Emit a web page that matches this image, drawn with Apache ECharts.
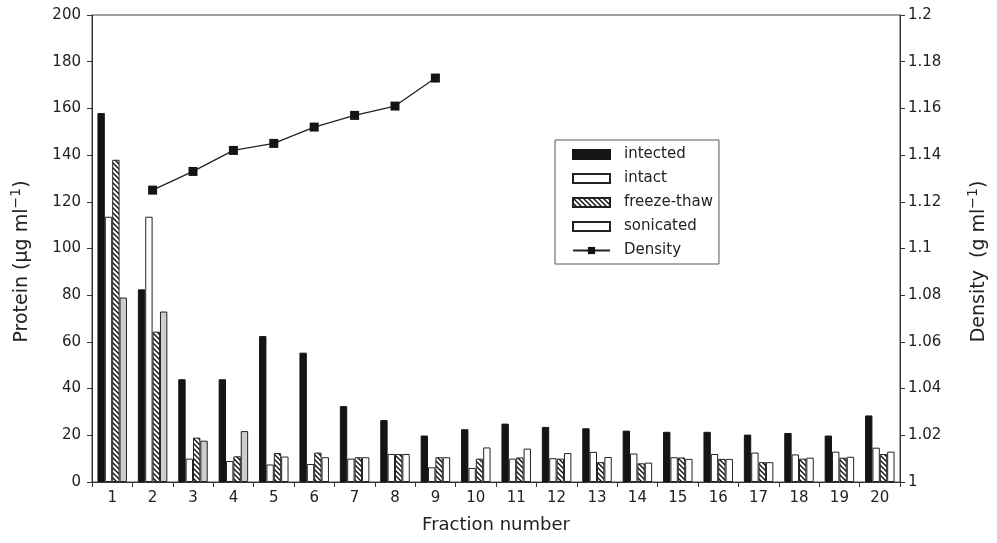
<!DOCTYPE html>
<html>
<head>
<meta charset="utf-8">
<script src="https://cdn.jsdelivr.net/npm/echarts@6/dist/echarts.min.js"></script>
<style>
html, body { margin: 0; padding: 0; background: #fff; }
#chart { width: 997px; height: 543px; }
</style>
</head>
<body>
<div id="chart"></div>
<script>
// fraction numbers
var fractions = ['1','2','3','4','5','6','7','8','9','10','11','12','13','14','15','16','17','18','19','20'];

// protein (ug/ml)
var infected   = [158, 82.5, 44, 44, 62.5, 55.4, 32.5, 26.5, 19.9, 22.6, 25, 23.6, 23, 22, 21.5, 21.5, 20.3, 21, 19.9, 28.5];
var intact     = [113.6, 113.6, 10, 9, 7.5, 7.7, 10, 12, 6.3, 6, 10, 10.2, 12.9, 12.2, 10.6, 12, 12.6, 11.8, 13, 14.7];
var freezeThaw = [138, 64.4, 19, 11, 12.4, 12.6, 10.6, 12, 10.6, 10, 10.5, 10, 8.5, 8, 10.5, 9.9, 8.5, 10, 10.4, 12];
var sonicated  = [79, 73, 17.7, 21.8, 10.9, 10.6, 10.6, 12, 10.6, 14.8, 14.3, 12.4, 10.7, 8.3, 9.9, 9.9, 8.5, 10.4, 10.8, 13];

// density (g/ml)
var density = [null, 1.125, 1.133, 1.142, 1.145, 1.152, 1.157, 1.161, 1.173, null, null, null, null, null, null, null, null, null, null, null];

var leftTicks = { min: 0, max: 200, interval: 20 };
var rightTicks = { min: 1, max: 1.2, interval: 0.02 };

// hatch pattern for freeze-thaw
var hatch = document.createElement('canvas');
hatch.width = 5; hatch.height = 5;
var hc = hatch.getContext('2d');
hc.fillStyle = '#fff';
hc.fillRect(0, 0, 5, 5);
hc.strokeStyle = '#111';
hc.lineWidth = 1.4;
hc.beginPath();
hc.moveTo(-1, -1); hc.lineTo(6, 6);
hc.moveTo(-1, 4); hc.lineTo(1, 6);
hc.moveTo(4, -1); hc.lineTo(6, 1);
hc.stroke();

var txt = '#222';
var font = 'DejaVu Sans';

// axis title with superscript
var titleStyle = {
	fontSize: 19, color: txt,
	padding: [0, 26, 0, 0],
	rich: {
		n: { fontSize: 19, color: txt, fontFamily: font },
		sup: { fontSize: 14, color: txt, fontFamily: font, verticalAlign: 'top', lineHeight: 26 }
	}
};

var chart = echarts.init(document.getElementById('chart'));

var option = {
	animation: false,
	backgroundColor: '#fff',
	textStyle: { fontFamily: font },
	grid: {
		left: 92, right: 97, top: 15, bottom: 61,
		outerBoundsMode: 'none',
		show: true, borderColor: '#444', borderWidth: 1
	},
	legend: {
		orient: 'vertical',
		left: 555, top: 140,
		padding: [7, 6, 6, 17],
		itemWidth: 37, itemHeight: 9,
		itemGap: 9,
		borderColor: '#555', borderWidth: 1,
		textStyle: { fontSize: 15, color: txt, fontFamily: font, padding: [0, 0, 0, 9] },
		data: [
			{ name: 'intected', icon: 'rect' },
			{ name: 'intact', icon: 'rect' },
			{ name: 'freeze-thaw', icon: 'rect' },
			{ name: 'sonicated', icon: 'rect' },
			{ name: 'Density' }
		]
	},
	xAxis: {
		type: 'category',
		data: fractions,
		name: 'Fraction number',
		nameLocation: 'middle',
		nameGap: 34,
		nameTextStyle: { fontSize: 18, color: txt },
		axisLine: { lineStyle: { color: '#333', width: 1 } },
		axisTick: { show: true, length: 5, lineStyle: { color: '#333' } },
		axisLabel: { fontSize: 15, color: txt, margin: 9 },
		splitLine: { show: false }
	},
	yAxis: [{
		type: 'value',
		min: leftTicks.min, max: leftTicks.max, interval: leftTicks.interval,
		name: '{n|Protein (\u00b5g ml}{sup|\u22121}{n|)}',
		nameLocation: 'middle',
		nameRotate: 90,
		nameGap: 57,
		nameTextStyle: titleStyle,
		axisLine: { show: true, lineStyle: { color: '#333', width: 1 } },
		axisTick: { show: true, length: 5, lineStyle: { color: '#333' } },
		axisLabel: { fontSize: 15, color: txt, margin: 11 },
		splitLine: { show: false }
	}, {
		type: 'value',
		position: 'right',
		min: rightTicks.min, max: rightTicks.max, interval: rightTicks.interval,
		name: '{n|Density  (g ml}{sup|\u22121}{n|)}',
		nameLocation: 'middle',
		nameRotate: 90,
		nameGap: 66,
		nameTextStyle: titleStyle,
		axisLine: { show: true, lineStyle: { color: '#333', width: 1 } },
		axisTick: { show: true, length: 5, lineStyle: { color: '#333' } },
		axisLabel: { fontSize: 15, color: txt, margin: 8 },
		splitLine: { show: false }
	}],
	series: [{
		name: 'intected',
		type: 'bar',
		data: infected,
		barGap: '0%',
		barCategoryGap: '27%',
		itemStyle: { color: '#141414', borderColor: '#141414', borderWidth: 1 }
	}, {
		name: 'intact',
		type: 'bar',
		data: intact,
		itemStyle: { color: '#fff', borderColor: '#222', borderWidth: 1 }
	}, {
		name: 'freeze-thaw',
		type: 'bar',
		data: freezeThaw,
		itemStyle: { color: { image: hatch, repeat: 'repeat' }, borderColor: '#222', borderWidth: 1 }
	}, {
		name: 'sonicated',
		type: 'bar',
		// the first four bars look grey in the scan
		data: sonicated.map(function (v, i) {
			return i < 4 ? { value: v, itemStyle: { color: '#cdcdcd' } } : v;
		}),
		itemStyle: { color: '#fff', borderColor: '#222', borderWidth: 1 }
	}, {
		name: 'Density',
		type: 'line',
		yAxisIndex: 1,
		data: density,
		z: 5,
		symbol: 'rect',
		symbolSize: 9,
		lineStyle: { color: '#222', width: 1.3 },
		itemStyle: { color: '#141414' }
	}]
};

chart.setOption(option);
</script>
</body>
</html>
